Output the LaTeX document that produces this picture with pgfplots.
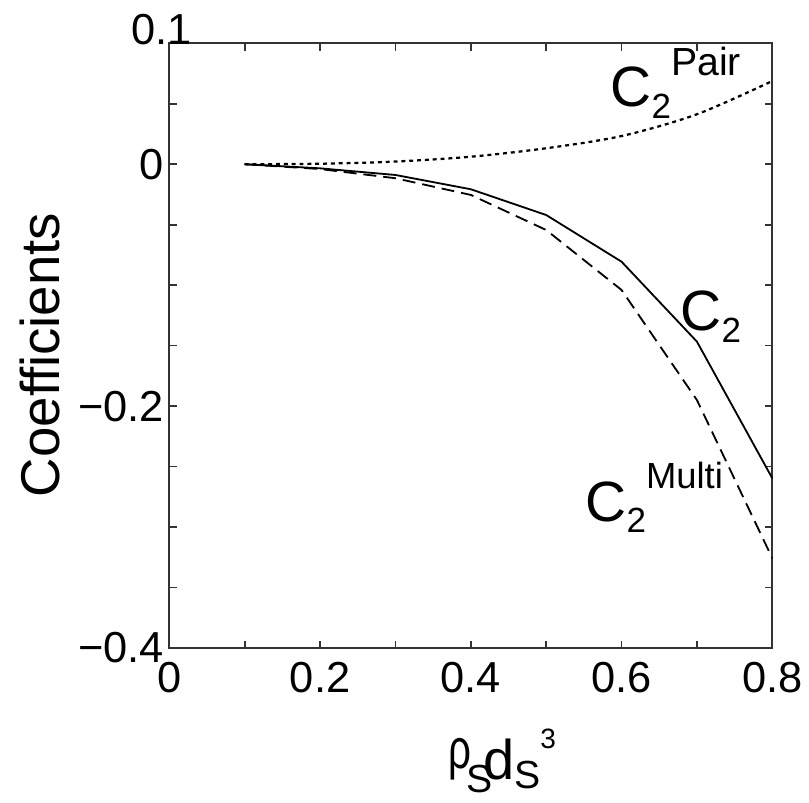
\documentclass[border=0pt]{standalone}
\usepackage{fontspec}
\setmainfont{Liberation Sans}
\usepackage{graphicx}
\usepackage{pgfplots}
\pgfplotsset{compat=1.18}
\begin{document}
\begin{tikzpicture}
\begin{axis}[
  scale only axis, width=215.4pt, height=216pt,
  xmin=0, xmax=0.8, ymin=-0.4, ymax=0.1,
  axis line style={black!80, line width=0.75pt},
  xtick={0,0.2,0.4,0.6,0.8}, xticklabels={0,0.2,0.4,0.6,0.8},
  minor xtick={0.1,0.3,0.5,0.7},
  ytick={-0.4,-0.2,0}, yticklabels={−0.4,−0.2,0},
  minor ytick={-0.35,-0.3,-0.25,-0.15,-0.1,-0.05,0.05},
  extra y ticks={0.1}, extra y tick labels={0.1},
  extra y tick style={yticklabel style={xshift=10pt,yshift=5pt}},
  tick align=inside, major tick length=2.6pt, minor tick length=2.6pt,
  tick style={black!80, line width=0.6pt},
  tick label style={font=\fontsize{15.5}{18}\selectfont, inner sep=0pt},
  yticklabel style={xshift=-1.8pt},
  xticklabel style={yshift=-5pt},
  ylabel={Coefficients},
  ylabel style={at={(axis description cs:-0.1813,0.4845)}, anchor=base, font=\fontsize{19.5}{22}\selectfont},
  xlabel={\raisebox{4pt}{\scalebox{0.72}[1]{ρ}}\hspace{-1.6pt}\raisebox{-4.6pt}{\fontsize{14}{16}\selectfont S}\hspace{-3.4pt}d\raisebox{-2.9pt}{\fontsize{14}{16}\selectfont S}\raisebox{11.4pt}{\fontsize{10}{12}\selectfont 3}},
  xlabel style={at={(axis description cs:0.446,-0.2183)}, anchor=base west, font=\fontsize{20}{24}\selectfont},
  clip=false,
]
\path (rel axis cs:-0.2808,-0.2448) rectangle (rel axis cs:1.0609,1.0716);
\addplot[black, line width=0.8pt, dash pattern=on 1.4pt off 1.4pt, smooth] coordinates {
  (0.1,0) (0.2,0.0004) (0.3,0.0022) (0.4,0.0062) (0.5,0.0132) (0.6,0.0233) (0.7,0.0413) (0.8,0.0688)};
\addplot[black, line width=0.65pt] coordinates {
  (0.1,0) (0.2,-0.0034) (0.3,-0.0089) (0.4,-0.0207) (0.5,-0.042) (0.6,-0.0806) (0.7,-0.1467) (0.8,-0.2597)};
\addplot[black, line width=0.65pt, dash pattern=on 4.6pt off 2.5pt] coordinates {
  (0.1,0) (0.2,-0.004) (0.3,-0.0116) (0.4,-0.0254) (0.5,-0.0544) (0.6,-0.104) (0.7,-0.195) (0.8,-0.3258)};
\node[anchor=base west, inner sep=0pt, font=\fontsize{20.3}{24}\selectfont] at (axis cs:0.5847,0.048)
  {C\raisebox{-4.3pt}{\fontsize{12.5}{14}\selectfont 2}\raisebox{11pt}{\fontsize{14}{16}\selectfont Pair}};
\node[anchor=base west, inner sep=0pt, font=\fontsize{20.3}{24}\selectfont] at (axis cs:0.6775,-0.1371)
  {C\raisebox{-4.6pt}{\fontsize{12.5}{14}\selectfont 2}};
\node[anchor=base west, inner sep=0pt, font=\fontsize{20.3}{24}\selectfont] at (axis cs:0.5515,-0.2958)
  {C\raisebox{-3.9pt}{\fontsize{12.5}{14}\selectfont 2}\raisebox{12pt}{\fontsize{13}{15}\selectfont Multi}};
\end{axis}
\end{tikzpicture}
\end{document}
